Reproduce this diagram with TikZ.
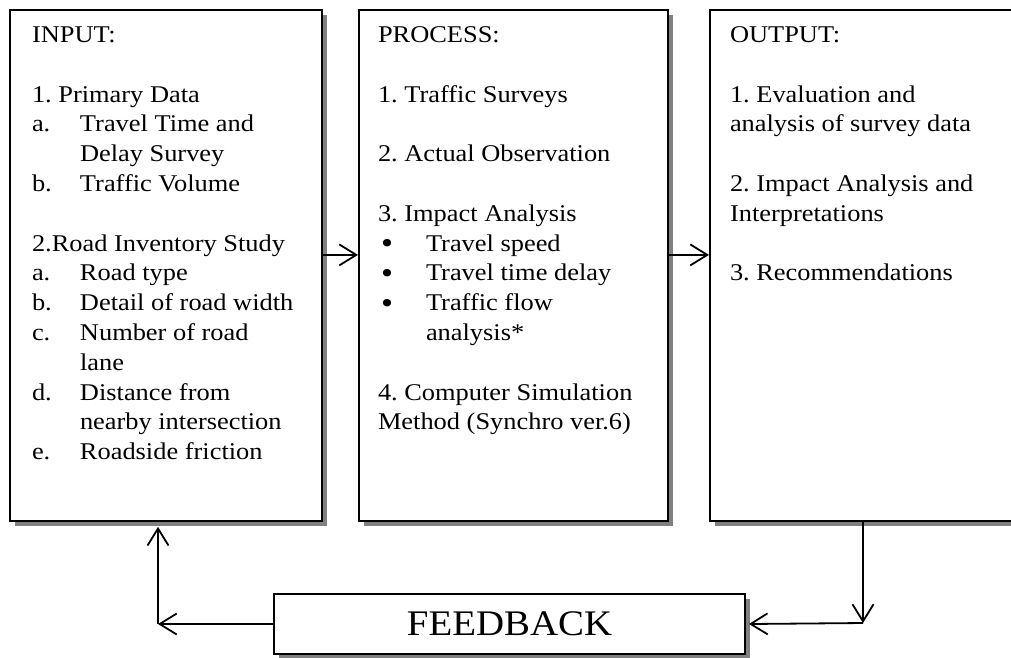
\documentclass[tikz,border=0pt]{standalone}
\usepackage{fontspec}
\setmainfont{Liberation Serif}[FakeStretch=1.1]
\newfontfamily\feedbackfont{Liberation Serif}[FakeStretch=1.08]
\usetikzlibrary{arrows.meta,shadows,calc}
\frenchspacing

\definecolor{shadowgray}{HTML}{808080}

\tikzset{
  panel/.style={draw=black, line width=1.8pt, fill=white, rectangle, inner sep=0pt,
    anchor=north west,
    drop shadow={shadow xshift=5pt, shadow yshift=-5pt, fill=shadowgray, opacity=1}},
  bodytext/.style={anchor=base west, inner sep=0pt, outer sep=0pt},
  arr/.style={line width=1.8pt, -{Straight Barb[length=17pt, width=21pt, line width=1.8pt]}}
}

\newcommand{\bodyfont}{\fontsize{24}{29.8}\selectfont}
\newcommand{\lab}[1]{\makebox[48pt][l]{#1}}
\newcommand{\hang}{\hspace*{48pt}}
\newcommand{\gapline}{\\[29.8pt]}
\newcommand{\bigbullet}{\hspace*{3pt}\smash{\raisebox{-2.5pt}{\scalebox{1.3}{\textbullet}}}}

\begin{document}
\begin{tikzpicture}[x=1pt, y=-1pt]
  \useasboundingbox (0,0) rectangle (1011,657);
  \clip (0,0) rectangle (1011,657);

  % the three stage panels
  \node[panel, minimum width=312pt, minimum height=511pt] (input) at (9,9) {};
  \node[panel, minimum width=309pt, minimum height=511pt] (process) at (358,9) {};
  \node[panel, minimum width=340pt, minimum height=511pt] (output) at (709,9) {};

  % feedback panel
  \node[panel, anchor=center, minimum width=471pt, minimum height=60pt,
        font=\feedbackfont\fontsize{36}{40}\selectfont] (feedback) at (509.5,624) {FEEDBACK};

  % panel contents
  \node[bodytext] (inputtext) at (32,42.5) {\parbox[t]{290pt}{\bodyfont
    INPUT:\gapline
    1. Primary Data\\
    \lab{a.}Travel Time and\\
    \hang Delay Survey\\
    \lab{b.}Traffic Volume\gapline
    2.Road Inventory Study\\
    \lab{a.}Road type\\
    \lab{b.}Detail of road width\\
    \lab{c.}Number of road\\
    \hang lane\\
    \lab{d.}Distance from\\
    \hang nearby intersection\\
    \lab{e.}Roadside friction}};

  \node[bodytext] (processtext) at (378,42.5) {\parbox[t]{290pt}{\bodyfont
    PROCESS:\gapline
    1. Traffic Surveys\gapline
    2. Actual Observation\gapline
    3. Impact Analysis\\
    \lab{\bigbullet}Travel speed\\
    \lab{\bigbullet}Travel time delay\\
    \lab{\bigbullet}Traffic flow\\
    \hang analysis*\gapline
    4. Computer Simulation\\
    Method (Synchro ver.6)}};

  \node[bodytext] (outputtext) at (730,42.5) {\parbox[t]{280pt}{\bodyfont
    OUTPUT:\gapline
    1. Evaluation and\\
    analysis of survey data\gapline
    2. Impact Analysis and\\
    Interpretations\gapline
    3. Recommendations}};

  % forward flow
  \draw[arr] ([yshift=10.5pt]input.east) -- ([yshift=10.5pt]process.west);
  \draw[arr] ([yshift=10.5pt]process.east) -- ([yshift=10.5pt]output.west);

  % feedback loop
  \coordinate (loopright) at (863,623);
  \coordinate (loopleft) at (158,624);
  \draw[arr] (output.south -| loopright) -- (loopright);
  \draw[arr] (loopright) -- ([xshift=3pt]feedback.east);
  \draw[arr] (feedback.west) -- (loopleft);
  \draw[arr] (loopleft) -- ($(input.south -| loopleft)+(0,5)$);
\end{tikzpicture}
\end{document}
